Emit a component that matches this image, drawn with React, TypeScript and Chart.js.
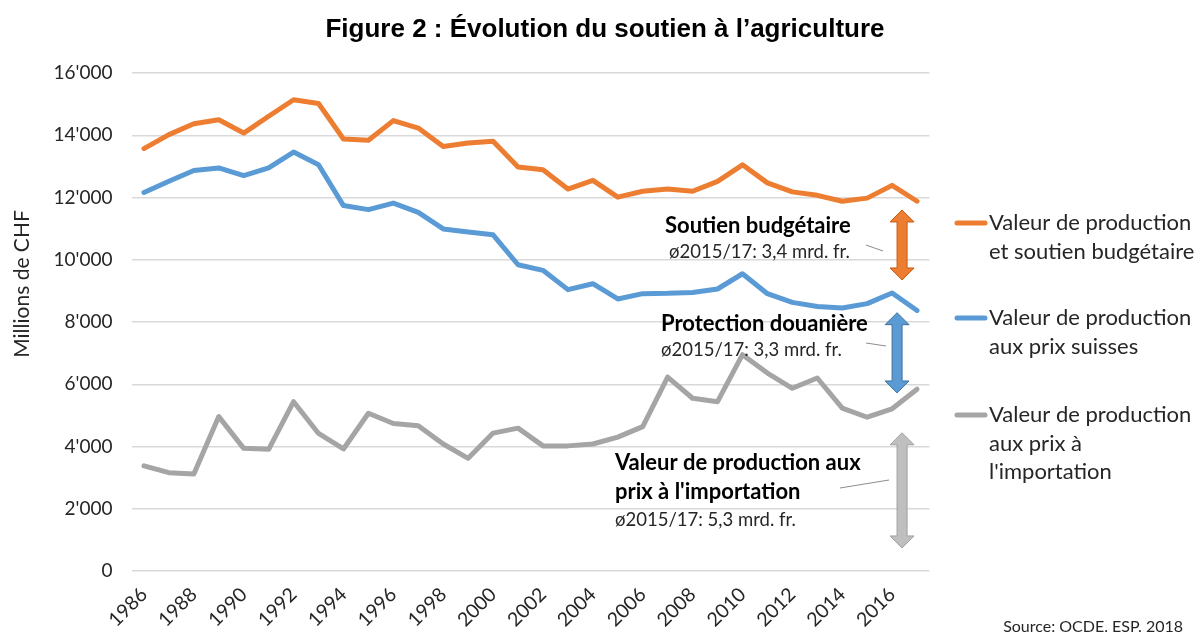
import React, { useEffect, useRef } from "react";
import { Chart, registerables } from "chart.js";

Chart.register(...registerables);

const years = [
  "1986", "1987", "1988", "1989", "1990", "1991", "1992", "1993", "1994", "1995", "1996",
  "1997", "1998", "1999", "2000", "2001", "2002", "2003", "2004", "2005", "2006", "2007",
  "2008", "2009", "2010", "2011", "2012", "2013", "2014", "2015", "2016", "2017",
];

const productionEtSoutien = [
  13570, 14020, 14370, 14500, 14070, 14610, 15140, 15020, 13880, 13840, 14470,
  14230, 13640, 13750, 13810, 12980, 12890, 12270, 12550, 12010, 12200, 12270,
  12200, 12520, 13050, 12470, 12180, 12070, 11880, 11980, 12390, 11880,
];

const productionPrixSuisses = [
  12160, 12520, 12870, 12950, 12700, 12950, 13460, 13050, 11740, 11610, 11820,
  11520, 10990, 10890, 10800, 9840, 9660, 9040, 9230, 8740, 8910, 8920,
  8950, 9060, 9550, 8910, 8630, 8500, 8450, 8590, 8930, 8370,
];

const productionPrixImportation = [
  3380, 3160, 3120, 4960, 3940, 3910, 5440, 4420, 3920, 5070, 4740,
  4670, 4080, 3620, 4430, 4590, 4020, 4020, 4080, 4300, 4640, 6230,
  5550, 5440, 6950, 6360, 5870, 6200, 5230, 4940, 5210, 5840,
];

const seriesNames = [
  "Valeur de production et soutien budgétaire",
  "Valeur de production aux prix suisses",
  "Valeur de production aux prix à l'importation",
];

const legendLines = [
  ["Valeur de production", "et soutien budgétaire"],
  ["Valeur de production", "aux prix suisses"],
  ["Valeur de production", "aux prix à", "l'importation"],
];

const colors = ["#ED7D31", "#5B9BD5", "#A5A5A5"];

const yMin = 0;
const yMax = 16000;
const yStep = 2000;

const titleText = "Figure 2 : Évolution du soutien à l’agriculture";
const yAxisTitle = "Millions de CHF";
const sourceText = "Source: OCDE. ESP. 2018";

// Double arrows: category position (fractional index) and value range
const arrowX = [30.4, 30.2, 30.4];
const arrowTop = [11600, 8300, 4440];
const arrowBottom = [9350, 5720, 740];
const arrowFill = ["#ED7D31", "#5B9BD5", "#BFBFBF"];
const arrowStroke = ["#C55A11", "#41719C", "#A0A0A0"];

function formatTick(v: number): string {
  if (v === 0) return "0";
  const s = Math.round(v).toString();
  return s.replace(/\B(?=(\d{3})+(?!\d))/g, "'");
}

function drawDoubleArrow(
  ctx: CanvasRenderingContext2D,
  x: number,
  y1: number,
  y2: number,
  fill: string,
  stroke: string
) {
  const sw = 5;
  const hw = 12;
  const hl = 12;
  ctx.save();
  ctx.beginPath();
  ctx.moveTo(x, y1);
  ctx.lineTo(x + hw, y1 + hl);
  ctx.lineTo(x + sw, y1 + hl);
  ctx.lineTo(x + sw, y2 - hl);
  ctx.lineTo(x + hw, y2 - hl);
  ctx.lineTo(x, y2);
  ctx.lineTo(x - hw, y2 - hl);
  ctx.lineTo(x - sw, y2 - hl);
  ctx.lineTo(x - sw, y1 + hl);
  ctx.lineTo(x - hw, y1 + hl);
  ctx.closePath();
  ctx.fillStyle = fill;
  ctx.fill();
  ctx.lineWidth = 1;
  ctx.strokeStyle = stroke;
  ctx.stroke();
  ctx.restore();
}

const overlayPlugin = {
  id: "overlay",
  afterDraw(chart: any) {
    const ctx: CanvasRenderingContext2D = chart.ctx;
    const xs = chart.scales.x;
    const ys = chart.scales.y;
    ctx.save();

    // Title
    ctx.fillStyle = "#000000";
    ctx.font = "bold 26px 'Liberation Sans', Arial, sans-serif";
    ctx.textAlign = "center";
    ctx.textBaseline = "middle";
    ctx.fillText(titleText, 605, 30);

    // Y axis title
    ctx.save();
    ctx.translate(22, 284);
    ctx.rotate(-Math.PI / 2);
    ctx.font = "21px Lato, sans-serif";
    ctx.fillStyle = "#262626";
    ctx.fillText(yAxisTitle, 0, 0);
    ctx.restore();

    // Arrows
    for (let i = 0; i < arrowX.length; i++) {
      const x0 = xs.getPixelForValue(Math.floor(arrowX[i]));
      const x1 = xs.getPixelForValue(Math.floor(arrowX[i]) + 1);
      const px = x0 + (x1 - x0) * (arrowX[i] - Math.floor(arrowX[i]));
      drawDoubleArrow(
        ctx,
        px,
        ys.getPixelForValue(arrowTop[i]),
        ys.getPixelForValue(arrowBottom[i]),
        arrowFill[i],
        arrowStroke[i]
      );
    }

    // Annotation texts
    ctx.textAlign = "left";
    ctx.textBaseline = "middle";
    ctx.fillStyle = "#000000";
    ctx.font = "bold 22px Lato, sans-serif";
    ctx.fillText("Soutien budgétaire", 665, 226);
    ctx.fillText("Protection douanière", 661, 324);
    ctx.fillText("Valeur de production aux", 615, 463);
    ctx.fillText("prix à l'importation", 615, 492);
    ctx.fillStyle = "#262626";
    ctx.font = "18.5px Lato, sans-serif";
    ctx.fillText("ø2015/17: 3,4 mrd. fr.", 669, 252);
    ctx.fillText("ø2015/17: 3,3 mrd. fr.", 661, 350);
    ctx.fillText("ø2015/17: 5,3 mrd. fr.", 615, 520);

    // Leader lines
    ctx.strokeStyle = "#8C8C8C";
    ctx.lineWidth = 1;
    ctx.beginPath();
    ctx.moveTo(866, 245);
    ctx.lineTo(883, 251);
    ctx.moveTo(866, 343);
    ctx.lineTo(886, 346);
    ctx.moveTo(840, 488);
    ctx.lineTo(889, 480);
    ctx.stroke();

    // Legend
    const legendY = [223, 318, 415];
    ctx.font = "22px Lato, sans-serif";
    for (let i = 0; i < legendLines.length; i++) {
      ctx.strokeStyle = colors[i];
      ctx.lineWidth = 5;
      ctx.lineCap = "round";
      ctx.beginPath();
      ctx.moveTo(957, legendY[i]);
      ctx.lineTo(985, legendY[i]);
      ctx.stroke();
      ctx.fillStyle = "#262626";
      legendLines[i].forEach((t, j) => {
        ctx.fillText(t, 989, legendY[i] + j * 28.5);
      });
    }

    // Source
    ctx.font = "16px Lato, sans-serif";
    ctx.textAlign = "right";
    ctx.fillStyle = "#262626";
    ctx.fillText(sourceText, 1183, 627);

    ctx.restore();
  },
};

export default function App() {
  const canvasRef = useRef<HTMLCanvasElement | null>(null);

  useEffect(() => {
    document.body.style.margin = "0";
    const canvas = canvasRef.current;
    if (!canvas) return;
    const chart = new Chart(canvas, {
      type: "line",
      data: {
        labels: years,
        datasets: [
          {
            label: seriesNames[0],
            data: productionEtSoutien,
            borderColor: colors[0],
            backgroundColor: colors[0],
            borderWidth: 5,
            pointRadius: 0,
            tension: 0,
          },
          {
            label: seriesNames[1],
            data: productionPrixSuisses,
            borderColor: colors[1],
            backgroundColor: colors[1],
            borderWidth: 5,
            pointRadius: 0,
            tension: 0,
          },
          {
            label: seriesNames[2],
            data: productionPrixImportation,
            borderColor: colors[2],
            backgroundColor: colors[2],
            borderWidth: 5,
            pointRadius: 0,
            tension: 0,
          },
        ],
      },
      options: {
        animation: false,
        responsive: false,
        devicePixelRatio: 1,
        layout: { padding: { left: 0, right: 270.5, top: 73, bottom: 0 } },
        elements: { line: { borderJoinStyle: "round", borderCapStyle: "round" } },
        plugins: {
          legend: { display: false },
          title: { display: false },
          tooltip: { enabled: false },
        },
        scales: {
          x: {
            type: "category",
            offset: true,
            grid: { display: false },
            border: { display: false },
            ticks: {
              autoSkip: false,
              minRotation: 45,
              maxRotation: 45,
              padding: 4,
              color: "#262626",
              font: { family: "Lato", size: 19.5 },
              callback: function (_v: any, idx: number) {
                return idx % 2 === 0 ? years[idx] : "";
              },
            },
            afterFit: (scale: any) => {
              scale.height = 64;
            },
          },
          y: {
            min: yMin,
            max: yMax,
            grid: { color: "#D9D9D9", lineWidth: 1.5, drawTicks: false },
            border: { display: false },
            ticks: {
              stepSize: yStep,
              padding: 19,
              color: "#262626",
              font: { family: "Lato", size: 19 },
              callback: (v: any) => formatTick(Number(v)),
            },
            afterFit: (scale: any) => {
              scale.width = 131.5;
            },
          },
        },
      },
      plugins: [overlayPlugin],
    });
    return () => chart.destroy();
  }, []);

  return (
    <div style={{ position: "absolute", left: 0, top: 0, width: 1200, height: 635, background: "#fff" }}>
      <canvas ref={canvasRef} width={1200} height={635} style={{ width: 1200, height: 635 }} />
    </div>
  );
}
